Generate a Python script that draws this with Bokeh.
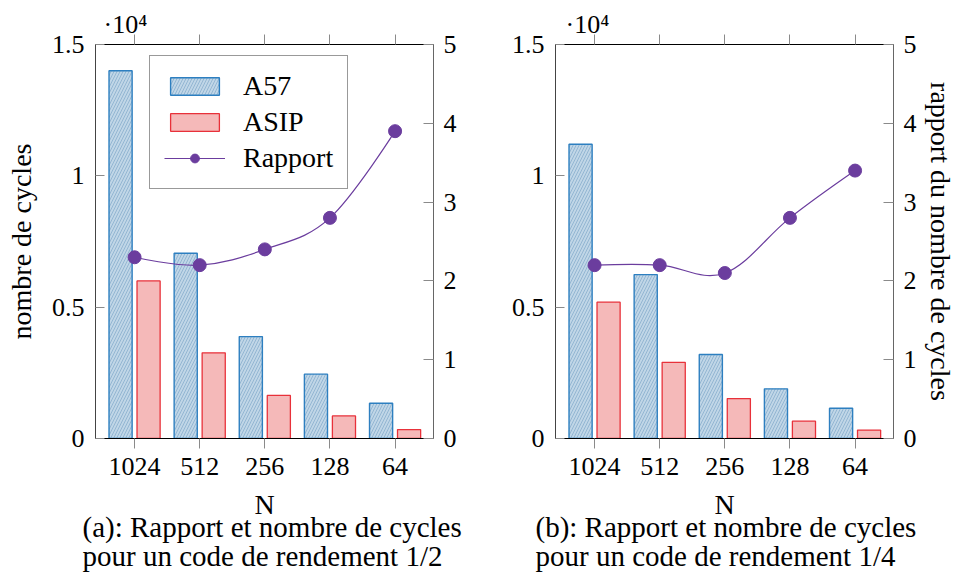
import numpy as np
from bokeh.plotting import figure
from bokeh.models import Range1d, LinearAxis, FixedTicker, Legend, LegendItem, Title
from bokeh.layouts import row
from bokeh.embed import file_html
from bokeh.resources import INLINE

# ---------------- data ----------------
N_labels = ["1024", "512", "256", "128", "64"]

a57_half = [14000, 7050, 3880, 2450, 1340]
asip_half = [6000, 3260, 1640, 860, 340]
ratio_half = [2.3, 2.2, 2.4, 2.8, 3.9]

a57_quarter = [11200, 6240, 3200, 1890, 1150]
asip_quarter = [5190, 2900, 1520, 660, 320]
ratio_quarter = [2.2, 2.2, 2.1, 2.8, 3.4]

cycle_ticks = [0, 5000, 10000, 15000]
cycle_tick_labels = ["0", "0.5", "1", "1.5"]
ratio_ticks = [0, 1, 2, 3, 4, 5]

caption_a = ["(a):  Rapport et nombre de cycles", "pour un code de rendement 1/2"]
caption_b = ["(b):  Rapport et nombre de cycles", "pour un code de rendement 1/4"]

series_names = ["A57", "ASIP", "Rapport"]
exponent_text = "·10⁴"

# ---------------- style ----------------
FONT = "Liberation Serif"
TICK_FS = "26px"
LAB_FS = "28px"
CAP_FS = "29px"
BLUE_LINE = "#2d7fc0"
BLUE_FILL = "#c0d6e7"
BLUE_HATCH = "#80a8c9"
RED_LINE = "#e8313a"
RED_FILL = "#f5b9b9"
PURPLE = "#6b3d9e"
BAR_W = 0.355
OFF = 0.215
TENSION = 0.18


def smooth_segments(xs, ys, f):
    xs = np.asarray(xs, float)
    ys = np.asarray(ys, float)
    n = len(xs)
    tx = np.zeros(n)
    ty = np.zeros(n)
    tx[1:-1] = (xs[2:] - xs[:-2]) * f
    ty[1:-1] = (ys[2:] - ys[:-2]) * f
    cox, coy = xs + tx, ys + ty
    cix, ciy = xs - tx, ys - ty
    return dict(x0=xs[:-1], y0=ys[:-1], x1=xs[1:], y1=ys[1:],
                cx0=cox[:-1], cy0=coy[:-1], cx1=cix[1:], cy1=ciy[1:])


def make_panel(a57, asip, ratio, caption, left_label, right_label, legend,
               border_left, border_right, cap_dx, exp_dx):
    p = figure(frame_width=338, frame_height=394,
               x_range=Range1d(-0.6, 4.59), y_range=Range1d(0, 15000),
               output_backend="svg", toolbar_location=None,
               min_border_left=border_left, min_border_right=border_right,
               min_border_top=44, min_border_bottom=135,
               outline_line_color=None, background_fill_color="white",
               border_fill_color="white")
    p.xgrid.visible = False
    p.ygrid.visible = False
    p.extra_y_ranges = {"r": Range1d(0, 5)}

    idx = np.arange(len(N_labels))

    ra = p.vbar(x=idx - OFF, top=a57, width=BAR_W, bottom=0,
                fill_color=BLUE_FILL, line_color=BLUE_LINE, line_width=1.4,
                hatch_pattern="/", hatch_color=BLUE_HATCH, hatch_scale=6,
                hatch_weight=0.7)
    rb = p.vbar(x=idx + OFF, top=asip, width=BAR_W, bottom=0,
                fill_color=RED_FILL, line_color=RED_LINE, line_width=1.3)

    seg = smooth_segments(idx, ratio, TENSION)
    rl = p.bezier(source=seg, x0="x0", y0="y0", x1="x1", y1="y1",
                  cx0="cx0", cy0="cy0", cx1="cx1", cy1="cy1",
                  line_color=PURPLE, line_width=1.2, y_range_name="r")
    rs = p.scatter(idx, ratio, size=13, fill_color=PURPLE, line_color=PURPLE,
                   y_range_name="r")

    # bottom axis
    xa = p.xaxis[0]
    xa.ticker = FixedTicker(ticks=list(idx))
    xa.major_label_overrides = {int(i): lab for i, lab in zip(idx, N_labels)}
    xa.minor_tick_line_color = None
    xa.major_tick_in = 0
    xa.major_tick_out = 10
    xa.major_tick_line_color = "#8a8a8a"
    xa.axis_line_color = "black"
    xa.major_label_text_font = FONT
    xa.major_label_text_font_size = TICK_FS
    xa.major_label_text_color = "black"
    xa.major_label_standoff = 9
    xa.axis_label = "N"
    xa.axis_label_text_font = FONT
    xa.axis_label_text_font_size = LAB_FS
    xa.axis_label_text_font_style = "normal"
    xa.axis_label_text_color = "black"
    xa.axis_label_standoff = 11

    # left axis
    ya = p.yaxis[0]
    ya.ticker = FixedTicker(ticks=cycle_ticks)
    ya.major_label_overrides = {t: l for t, l in zip(cycle_ticks, cycle_tick_labels)}
    ya.minor_tick_line_color = None
    ya.major_tick_in = 9
    ya.major_tick_out = 0
    ya.major_tick_line_color = "#8a8a8a"
    ya.axis_line_color = "#444444"
    ya.major_label_text_font = FONT
    ya.major_label_text_font_size = TICK_FS
    ya.major_label_text_color = "black"
    ya.major_label_standoff = 11
    if left_label:
        ya.axis_label = left_label
        ya.axis_label_text_font = FONT
        ya.axis_label_text_font_size = LAB_FS
        ya.axis_label_text_font_style = "normal"
        ya.axis_label_text_color = "black"
        ya.axis_label_standoff = 12

    # right axis
    yr = LinearAxis(y_range_name="r", ticker=FixedTicker(ticks=ratio_ticks))
    yr.minor_tick_line_color = None
    yr.major_tick_in = 10
    yr.major_tick_out = 0
    yr.major_tick_line_color = "#8a8a8a"
    yr.axis_line_color = "#666666"
    yr.major_label_text_font = FONT
    yr.major_label_text_font_size = TICK_FS
    yr.major_label_text_color = "black"
    yr.major_label_standoff = 10
    if right_label:
        yr.axis_label = right_label
        yr.axis_label_text_font = FONT
        yr.axis_label_text_font_size = LAB_FS
        yr.axis_label_text_font_style = "normal"
        yr.axis_label_text_color = "black"
        yr.axis_label_standoff = 5
    p.add_layout(yr, "right")

    # top axis (ticks only)
    xt = LinearAxis(ticker=FixedTicker(ticks=list(idx)))
    xt.minor_tick_line_color = None
    xt.major_tick_in = 0
    xt.major_tick_out = 10
    xt.major_label_standoff = 0
    xt.major_tick_line_color = "#8a8a8a"
    xt.axis_line_color = "black"
    xt.major_label_text_color = None
    p.add_layout(xt, "above")

    # exponent marker for the left axis
    p.add_layout(Title(text=exponent_text, align="left", offset=exp_dx,
                       text_font=FONT, text_font_size=TICK_FS,
                       text_font_style="normal", text_color="black",
                       standoff=-8), "above")

    # caption
    p.add_layout(Title(text="\n".join(caption), align="left", offset=cap_dx,
                       vertical_align="top", text_font=FONT,
                       text_font_size=CAP_FS, text_font_style="normal",
                       text_color="black", text_line_height=0.92,
                       standoff=-24), "below")

    if legend:
        lg = Legend(items=[LegendItem(label=series_names[0], renderers=[ra]),
                           LegendItem(label=series_names[1], renderers=[rb]),
                           LegendItem(label=series_names[2], renderers=[rl, rs])],
                    location=(54, 249), margin=0, padding=14, spacing=4,
                    glyph_width=61, glyph_height=22, label_standoff=18,
                    label_text_font=FONT, label_text_font_size=LAB_FS,
                    label_text_color="black",
                    border_line_color="#333333", border_line_width=1,
                    background_fill_color="white", background_fill_alpha=1)
        p.add_layout(lg, "center")
    return p


p1 = make_panel(a57_half, asip_half, ratio_half, caption_a,
                "nombre de cycles", None, True, 95, 45, -13, 8)
p2 = make_panel(a57_quarter, asip_quarter, ratio_quarter, caption_b,
                None, "rapport du nombre de cycles", False, 77, 64, -20, 10)

layout = row(p1, p2)
open("out.html", "w").write(file_html(layout, INLINE))
